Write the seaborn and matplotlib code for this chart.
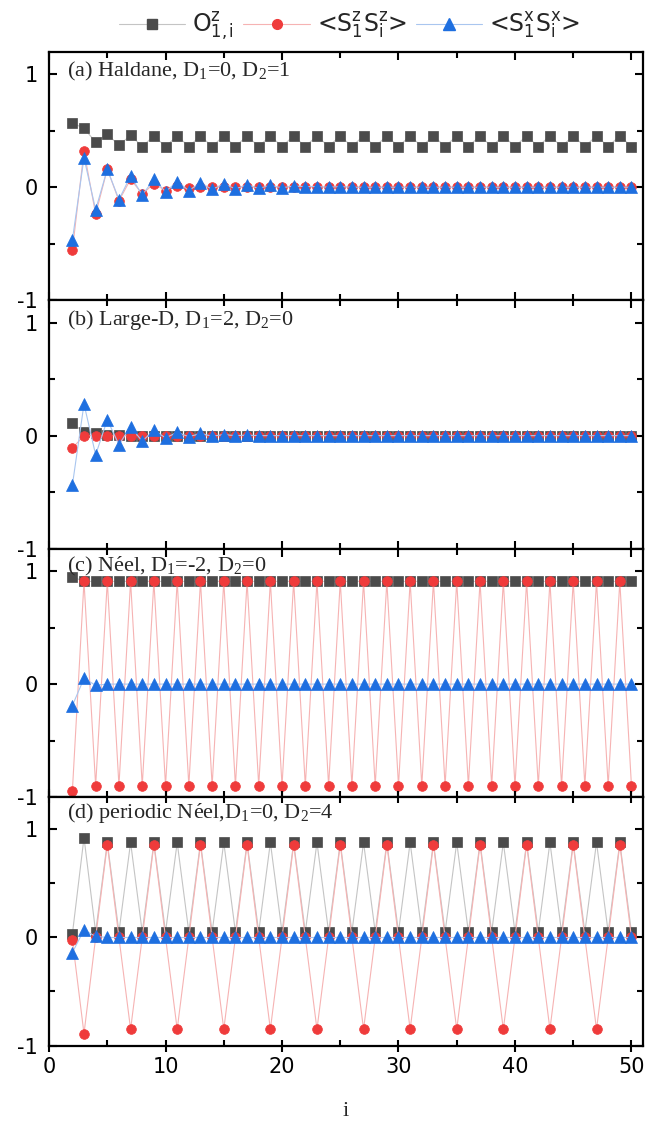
import matplotlib
matplotlib.use('Agg')
import matplotlib.pyplot as plt
from matplotlib.ticker import MultipleLocator
from matplotlib.lines import Line2D
import pandas as pd
import seaborn as sns

# site index i
sites = list(range(2, 51))

# (a) Haldane
haldane_o = [0.57, 0.52, 0.40, 0.47, 0.37, 0.46, 0.36, 0.455, 0.36,
             0.455, 0.36, 0.455, 0.36, 0.455, 0.36, 0.455, 0.36, 0.455, 0.36,
             0.455, 0.36, 0.455, 0.36, 0.455, 0.36, 0.455, 0.36, 0.455, 0.36,
             0.455, 0.36, 0.455, 0.36, 0.455, 0.36, 0.455, 0.36, 0.455, 0.36,
             0.455, 0.36, 0.455, 0.36, 0.455, 0.36, 0.455, 0.36, 0.455, 0.36]
haldane_zz = [-0.56, 0.32, -0.24, 0.16, -0.12, 0.07, -0.06, 0.03, -0.03, 0.01,
              -0.01, 0.0, 0.0, 0.0, 0.0, 0.0, 0.0, 0.0, 0.0, 0.0,
              0.0, 0.0, 0.0, 0.0, 0.0, 0.0, 0.0, 0.0, 0.0, 0.0,
              0.0, 0.0, 0.0, 0.0, 0.0, 0.0, 0.0, 0.0, 0.0, 0.0,
              0.0, 0.0, 0.0, 0.0, 0.0, 0.0, 0.0, 0.0, 0.0]
haldane_xx = [-0.47, 0.26, -0.20, 0.16, -0.11, 0.10, -0.07, 0.07, -0.04, 0.05,
              -0.03, 0.04, -0.02, 0.03, -0.015, 0.02, -0.01, 0.015, -0.005, 0.01,
              0.005, 0.005, 0.0, 0.005, 0.0, 0.0, 0.0, 0.0, 0.0, 0.0,
              0.0, 0.0, 0.0, 0.0, 0.0, 0.0, 0.0, 0.0, 0.0, 0.0,
              0.0, 0.0, 0.0, 0.0, 0.0, 0.0, 0.0, 0.0, 0.0]

# (b) Large-D
larged_o = [0.11, 0.03, 0.02, 0.01, 0.01, 0.0, 0.0, 0.0, 0.0, 0.0,
            0.0, 0.0, 0.0, 0.0, 0.0, 0.0, 0.0, 0.0, 0.0, 0.0,
            0.0, 0.0, 0.0, 0.0, 0.0, 0.0, 0.0, 0.0, 0.0, 0.0,
            0.0, 0.0, 0.0, 0.0, 0.0, 0.0, 0.0, 0.0, 0.0, 0.0,
            0.0, 0.0, 0.0, 0.0, 0.0, 0.0, 0.0, 0.0, 0.0]
larged_zz = [-0.11, 0.0, 0.0, 0.0, 0.0, 0.0, 0.0, 0.0, 0.0, 0.0,
             0.0, 0.0, 0.0, 0.0, 0.0, 0.0, 0.0, 0.0, 0.0, 0.0,
             0.0, 0.0, 0.0, 0.0, 0.0, 0.0, 0.0, 0.0, 0.0, 0.0,
             0.0, 0.0, 0.0, 0.0, 0.0, 0.0, 0.0, 0.0, 0.0, 0.0,
             0.0, 0.0, 0.0, 0.0, 0.0, 0.0, 0.0, 0.0, 0.0]
larged_xx = [-0.44, 0.28, -0.17, 0.14, -0.08, 0.08, -0.05, 0.05, -0.02, 0.03,
             -0.01, 0.02, -0.005, 0.01, 0.0, 0.005, 0.0, 0.0, 0.0, 0.0,
             0.0, 0.0, 0.0, 0.0, 0.0, 0.0, 0.0, 0.0, 0.0, 0.0,
             0.0, 0.0, 0.0, 0.0, 0.0, 0.0, 0.0, 0.0, 0.0, 0.0,
             0.0, 0.0, 0.0, 0.0, 0.0, 0.0, 0.0, 0.0, 0.0]

# (c) Neel
neel_o = [0.95, 0.91, 0.91, 0.91, 0.91, 0.91, 0.91, 0.91, 0.91, 0.91,
          0.91, 0.91, 0.91, 0.91, 0.91, 0.91, 0.91, 0.91, 0.91, 0.91,
          0.91, 0.91, 0.91, 0.91, 0.91, 0.91, 0.91, 0.91, 0.91, 0.91,
          0.91, 0.91, 0.91, 0.91, 0.91, 0.91, 0.91, 0.91, 0.91, 0.91,
          0.91, 0.91, 0.91, 0.91, 0.91, 0.91, 0.91, 0.91, 0.91]
neel_zz = [-0.95, 0.91, -0.90, 0.91, -0.90, 0.91, -0.90, 0.91, -0.90, 0.91,
           -0.90, 0.91, -0.90, 0.91, -0.90, 0.91, -0.90, 0.91, -0.90, 0.91,
           -0.90, 0.91, -0.90, 0.91, -0.90, 0.91, -0.90, 0.91, -0.90, 0.91,
           -0.90, 0.91, -0.90, 0.91, -0.90, 0.91, -0.90, 0.91, -0.90, 0.91,
           -0.90, 0.91, -0.90, 0.91, -0.90, 0.91, -0.90, 0.91, -0.90]
neel_xx = [-0.19, 0.05, -0.01, 0.0, 0.0, 0.0, 0.0, 0.0, 0.0, 0.0,
           0.0, 0.0, 0.0, 0.0, 0.0, 0.0, 0.0, 0.0, 0.0, 0.0,
           0.0, 0.0, 0.0, 0.0, 0.0, 0.0, 0.0, 0.0, 0.0, 0.0,
           0.0, 0.0, 0.0, 0.0, 0.0, 0.0, 0.0, 0.0, 0.0, 0.0,
           0.0, 0.0, 0.0, 0.0, 0.0, 0.0, 0.0, 0.0, 0.0]

# (d) periodic Neel
pneel_o = [0.03, 0.925, 0.05, 0.88, 0.05, 0.88, 0.05, 0.88, 0.05, 0.88,
           0.05, 0.88, 0.05, 0.88, 0.05, 0.88, 0.05, 0.88, 0.05, 0.88,
           0.05, 0.88, 0.05, 0.88, 0.05, 0.88, 0.05, 0.88, 0.05, 0.88,
           0.05, 0.88, 0.05, 0.88, 0.05, 0.88, 0.05, 0.88, 0.05, 0.88,
           0.05, 0.88, 0.05, 0.88, 0.05, 0.88, 0.05, 0.88, 0.05]
pneel_zz = [-0.02, -0.89, 0.0, 0.86, 0.0, -0.85, 0.0, 0.86, 0.0, -0.85,
            0.0, 0.86, 0.0, -0.85, 0.0, 0.86, 0.0, -0.85, 0.0, 0.86,
            0.0, -0.85, 0.0, 0.86, 0.0, -0.85, 0.0, 0.86, 0.0, -0.85,
            0.0, 0.86, 0.0, -0.85, 0.0, 0.86, 0.0, -0.85, 0.0, 0.86,
            0.0, -0.85, 0.0, 0.86, 0.0, -0.85, 0.0, 0.86, 0.0]
pneel_xx = [-0.14, 0.07, 0.01, 0.0, 0.0, 0.0, 0.0, 0.0, 0.0, 0.0,
            0.0, 0.0, 0.0, 0.0, 0.0, 0.0, 0.0, 0.0, 0.0, 0.0,
            0.0, 0.0, 0.0, 0.0, 0.0, 0.0, 0.0, 0.0, 0.0, 0.0,
            0.0, 0.0, 0.0, 0.0, 0.0, 0.0, 0.0, 0.0, 0.0, 0.0,
            0.0, 0.0, 0.0, 0.0, 0.0, 0.0, 0.0, 0.0, 0.0]

panel_titles = [r'(a) Haldane, D$_1$=0, D$_2$=1',
                r'(b) Large-D, D$_1$=2, D$_2$=0',
                r'(c) N$\acute{\rm e}$el, D$_1$=-2, D$_2$=0',
                r'(d) periodic N$\acute{\rm e}$el,D$_1$=0, D$_2$=4']
panels = [(haldane_o, haldane_zz, haldane_xx),
          (larged_o, larged_zz, larged_xx),
          (neel_o, neel_zz, neel_xx),
          (pneel_o, pneel_zz, pneel_xx)]
series_labels = [r'O$^{\mathsf{z}}_{\mathsf{1,i}}$',
                 r'<S$^{\mathsf{z}}_{\mathsf{1}}$S$^{\mathsf{z}}_{\mathsf{i}}$>',
                 r'<S$^{\mathsf{x}}_{\mathsf{1}}$S$^{\mathsf{x}}_{\mathsf{i}}$>']

# marker style per series: (marker, marker colour, line colour, size)
styles = [('s', '#4b4b4b', '#c4c4c4', 6.5),
          ('o', '#ef3b3b', '#f6b3b3', 7.0),
          ('^', '#1e6fe0', '#a9c6ef', 8.5)]

sns.set_theme(style='ticks')
plt.rcParams['font.family'] = ['DejaVu Sans']
plt.rcParams['axes.unicode_minus'] = False
plt.rcParams['mathtext.fontset'] = 'custom'
plt.rcParams['mathtext.rm'] = 'Liberation Serif'
plt.rcParams['mathtext.it'] = 'Liberation Serif:italic'
plt.rcParams['mathtext.sf'] = 'DejaVu Sans'

fig = plt.figure(figsize=(6.72, 11.23), dpi=100)
axes = fig.subplots(4, 1, sharex=True)
fig.subplots_adjust(left=0.073, right=0.957, top=0.954, bottom=0.069, hspace=0)

ylims = [(-1, 1.2), (-1, 1.2), (-1, 1.2), (-1, 1.3)]
title_y = [0.92, 0.92, 0.93, 0.935]

for k, ax in enumerate(axes):
    for vals, (mk, mc, lc, ms) in zip(panels[k], styles):
        df = pd.DataFrame({'i': sites, 'v': vals})
        sns.lineplot(data=df, x='i', y='v', ax=ax, color=lc, lw=0.8,
                     marker=mk, markersize=ms, markerfacecolor=mc,
                     markeredgecolor=mc, markeredgewidth=0.5,
                     estimator=None, sort=False)
    ax.set_xlim(0, 51)
    ax.set_ylim(*ylims[k])
    ax.set_xlabel('')
    ax.set_ylabel('')
    ax.xaxis.set_major_locator(MultipleLocator(10))
    ax.xaxis.set_minor_locator(MultipleLocator(5))
    ax.yaxis.set_major_locator(MultipleLocator(1))
    ax.yaxis.set_minor_locator(MultipleLocator(0.5))
    ax.tick_params(which='both', direction='in', top=True, right=True,
                   width=1.5, labelsize=15, colors='black')
    ax.tick_params(axis='y', which='major', length=6, pad=8)
    ax.tick_params(axis='x', which='major', length=6)
    ax.tick_params(which='minor', length=4)
    for sp in ax.spines.values():
        sp.set_linewidth(1.6)
        sp.set_color('black')
    ax.text(0.03, title_y[k], panel_titles[k], transform=ax.transAxes,
            family='Liberation Serif', fontsize=16, va='center', ha='left')

axes[-1].tick_params(axis='x', which='major', direction='inout', length=9,
                     pad=4)
axes[-1].set_xlabel('i', family='Liberation Serif', fontsize=16, labelpad=18)

handles = [Line2D([], [], color=lc, lw=0.8, marker=mk, markersize=ms,
                  markerfacecolor=mc, markeredgecolor=mc)
           for mk, mc, lc, ms in styles]
fig.legend(handles, series_labels, loc='center', bbox_to_anchor=(0.52, 0.977),
           ncol=3, frameon=False, fontsize=17, handlelength=2.8,
           handletextpad=0.3, columnspacing=0.4)

fig.savefig('out.png', dpi=100)
